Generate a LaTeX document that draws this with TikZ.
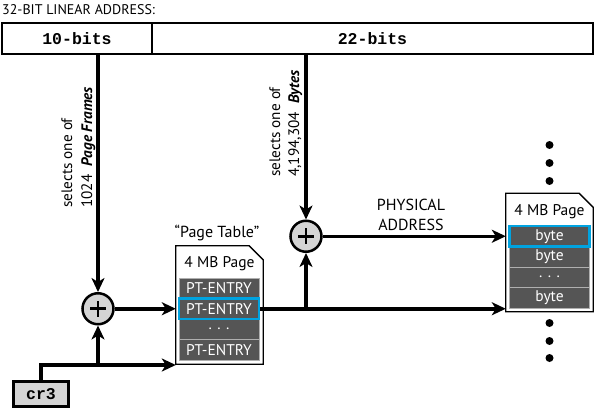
\documentclass[tikz,border=0pt]{standalone}
\usepackage{fontspec}
\setmainfont{PT Sans}
\newfontfamily\monof{Liberation Mono}
\usetikzlibrary{arrows.meta,calc}
\definecolor{rowgray}{RGB}{85,85,85}
\definecolor{rowedge}{RGB}{175,175,175}
\definecolor{hiblue}{RGB}{0,163,224}
\definecolor{circfill}{RGB}{212,212,212}
\begin{document}
\begin{tikzpicture}[x=1pt,y=-1pt,
  conn/.style={line width=3.5pt,-{Stealth[length=14pt,width=13pt,inset=4pt]}},
  addrbox/.style={draw,line width=2.5pt,minimum height=31pt,inner sep=0pt,font=\monof\bfseries\fontsize{16.5}{16.5}\selectfont},
  adder/.style={circle,draw,line width=2.5pt,fill=circfill,minimum size=31pt,inner sep=0pt,
    path picture={\draw[line width=2.6pt] ($(path picture bounding box.center)+(-8,0)$) -- ++(16,0)
      ($(path picture bounding box.center)+(0,-8)$) -- ++(0,16);}},
  doc/.style={minimum width=87pt,minimum height=118pt,inner sep=0pt},
  docline/.style={draw,line width=1.3pt,fill=white},
  rowbox/.style={draw=rowedge,line width=1pt,fill=rowgray,text=white,minimum width=80pt,minimum height=20.5pt,inner sep=0pt,font=\fontsize{15.5}{15.5}\selectfont},
  hirow/.style={rowbox,draw=hiblue,line width=2.6pt},
  lbl/.style={inner sep=0pt,font=\fontsize{15.5}{15.5}\selectfont},
  rlbl/.style={lbl,rotate=90,anchor=base west,font=\fontsize{15.2}{15.2}\selectfont},
  dot/.style={circle,fill=black,minimum size=8pt,inner sep=0pt}
]
\useasboundingbox (0,0) rectangle (595,412);

% title and address bar
\node[lbl,anchor=west,font=\fontsize{14}{14}\selectfont] (title) at (2,10) {32-BIT LINEAR ADDRESS:};
\node[addrbox,minimum width=150pt] (bits10) at (77,38.5) {10-bits};
\node[addrbox,minimum width=441pt] (bits22) at (372.5,38.5) {22-bits};

% adders
\node[adder] (plus1) at (98,308.75) {};
\node[adder] (plus2) at (306,236.25) {};

% rotated labels
\node[rlbl] (sel1a) at (72,208) {selects one of};
\node[rlbl] (sel1b) at (92,208) {1024\ \ \textbf{\textit{Page Frames}}};
\node[rlbl] (sel2a) at (280,177) {selects one of};
\node[rlbl] (sel2b) at (299,177) {4,194,304\ \ \textbf{\textit{Bytes}}};

% page table document
\node[doc] (ptdoc) at (219.5,305) {};
\draw[docline] (ptdoc.north west) -- ([xshift=-14pt]ptdoc.north east) -- ([yshift=-14pt]ptdoc.north east) -- (ptdoc.south east) -- (ptdoc.south west) -- cycle;
\node[lbl,font=\fontsize{16}{16}\selectfont] (ptlabel) at (217,233) {“Page Table”};
\node[lbl] (pttitle) at (219.5,264) {4 MB Page};
\node[rowbox] (pt1) at (219,288.25) {PT-ENTRY};
\node[rowbox] (pt3) at (219,329.25) {. . .};
\node[rowbox] (pt4) at (219,349.75) {PT-ENTRY};
\node[hirow] (pt2) at (219,308.75) {PT-ENTRY};

% page document
\node[doc] (pgdoc) at (549.5,252.5) {};
\draw[docline] (pgdoc.north west) -- ([xshift=-14pt]pgdoc.north east) -- ([yshift=-14pt]pgdoc.north east) -- (pgdoc.south east) -- (pgdoc.south west) -- cycle;
\node[lbl] (pgtitle) at (549.5,212) {4 MB Page};
\node[rowbox] (pg2) at (549.5,256.75) {byte};
\node[rowbox] (pg3) at (549.5,277.25) {. . .};
\node[rowbox] (pg4) at (549.5,297.75) {byte};
\node[hirow] (pg1) at (549.5,236.25) {byte};

% dots
\node[dot] (da1) at (549.5,145) {};
\node[dot] (da2) at (549.5,163) {};
\node[dot] (da3) at (549.5,181) {};
\node[dot] (db1) at (549.5,323) {};
\node[dot] (db2) at (549.5,341) {};
\node[dot] (db3) at (549.5,358) {};

% physical address label
\node[lbl,align=center,font=\fontsize{16}{20}\selectfont] (phys) at (411,215) {PHYSICAL\\ADDRESS};

% cr3
\node[draw,line width=3.5pt,fill=circfill,minimum width=55pt,minimum height=25pt,inner sep=0pt,font=\monof\bfseries\fontsize{16.5}{16.5}\selectfont] (cr3) at (41,394) {cr3};
\coordinate (crturn) at (41,365);

% connectors
\draw[conn] (plus1 |- bits10.south) -- (plus1.north);
\draw[conn] (plus2 |- bits22.south) -- (plus2.north);
\draw[conn] (plus1.east) -- (plus1 -| ptdoc.west);
\draw[conn] (pt2.east) -- (pt2.east -| pgdoc.west);
\draw[conn] (pt2.east -| plus2) -- (plus2.south);
\draw[conn] (plus2.east) -- (plus2 -| pgdoc.west);
\draw[conn,line join=miter] (cr3.north) |- (crturn -| ptdoc.west);
\draw[conn] (plus1 |- crturn) -- (plus1.south);
\end{tikzpicture}
\end{document}
